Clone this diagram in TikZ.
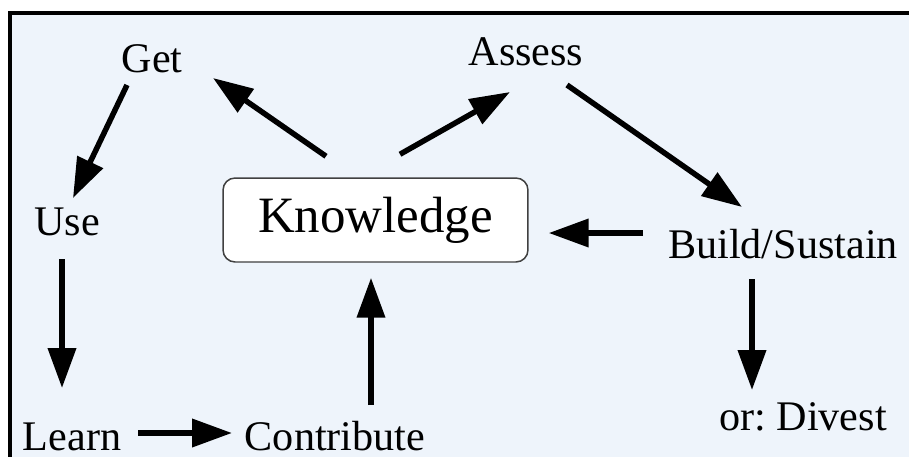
\documentclass[tikz,border=0pt]{standalone}
\usepackage{fontspec}
\setmainfont{Liberation Serif}
\usepackage{xcolor}
\usepackage{tikz}
\usetikzlibrary{arrows.meta}
\definecolor{paleblue}{RGB}{238,244,251}

\begin{document}
\begin{tikzpicture}[x=0.02cm, y=-0.02cm,
    lbl/.style={inner sep=0pt, anchor=base, font=\fontsize{24}{28}\selectfont},
    kbox/.style={draw=black!75, line width=0.85pt, rounded corners=0.24cm, fill=white,
        minimum width=6.1cm, minimum height=1.68cm, inner sep=0pt,
        font=\fontsize{29}{34}\selectfont},
    arr/.style={line width=0.11cm, -{Triangle[length=0.8cm, width=0.55cm]}}]
    % Rahmen
    \useasboundingbox (0,0) rectangle (909,457);
    \fill[white] (0,0) rectangle (909,457);
    \fill[black] (8,11) rectangle (909,457);
    \fill[paleblue] (12,15) rectangle (909,457);

    % Knoten
    \node[kbox] (know) at (375.5,220) {Knowledge};
    \node[lbl] (get) at (152,72) {Get};
    \node[lbl] (assess) at (526,65) {Assess};
    \node[lbl] (use) at (67,235) {Use};
    \node[lbl] (build) at (783,258) {Build/Sustain};
    \node[lbl] (divest) at (803,430) {or:\ Divest};
    \node[lbl] (learn) at (72,450) {Learn};
    \node[lbl] (contrib) at (335,450) {Contribute};

    % Pfeile
    \draw[arr] ([shift={(-49.5,-21)}]know.north) -- ([shift={(61,6)}]get.base);
    \draw[arr] ([shift={(24.5,-23)}]know.north) -- ([shift={(-16,27)}]assess.base);
    \draw[arr] ([shift={(41,20)}]assess.base) -- ([shift={(-41,-51)}]build.base);
    \draw[arr] ([shift={(-140,-25)}]build.base) -- ([shift={(20,13)}]know.east);
    \draw[arr] ([shift={(-25,13)}]get.base) -- ([shift={(6,-37)}]use.base);
    \draw[arr] ([shift={(-5,24)}]use.base) -- ([shift={(-10,-62)}]learn.base);
    \draw[arr] ([shift={(66,-17)}]learn.base) -- ([shift={(-103,-17)}]contrib.base);
    \draw[arr] ([shift={(36,-45)}]contrib.base) -- ([shift={(-4.5,15)}]know.south);
    \draw[arr] ([shift={(-31,21)}]build.base) -- ([shift={(-51,-40)}]divest.base);
\end{tikzpicture}
\end{document}
